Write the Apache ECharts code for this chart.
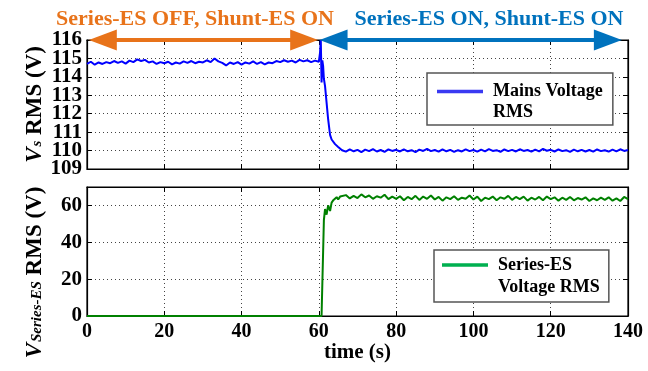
<!DOCTYPE html>
<html>
<head>
<meta charset="utf-8">
<script src="https://cdn.jsdelivr.net/npm/echarts@6/dist/echarts.min.js"></script>
<style>
  html, body { margin: 0; padding: 0; background: #fff; }
  #chart { width: 648px; height: 371px; }
</style>
</head>
<body>
<div id="chart"></div>
<script>
// sample times (s)
const timeS = [
  0, 1, 2, 3, 4, 5, 6, 7, 8, 9, 10, 11, 12, 13, 14, 15, 16, 17, 18, 19,
  20, 21, 22, 23, 24, 25, 26, 27, 28, 29, 30, 31, 32, 33, 34, 35, 36, 37, 38, 39,
  40, 41, 42, 43, 44, 45, 46, 47, 48, 49, 50, 51, 52, 53, 54, 55, 56, 57, 58, 59,
  60, 60.3, 60.5, 60.7, 60.9, 61.1, 61.3, 61.6, 62.0, 62.4, 62.9, 63.3, 63.8, 64.2, 64.6, 65.0, 65.5,
  66, 67, 68, 69, 70, 71, 72, 73, 74, 75, 76, 77, 78, 79, 80, 81, 82, 83, 84, 85,
  86, 87, 88, 89, 90, 91, 92, 93, 94, 95, 96, 97, 98, 99, 100, 101, 102, 103, 104, 105,
  106, 107, 108, 109, 110, 111, 112, 113, 114, 115, 116, 117, 118, 119, 120, 121, 122, 123, 124, 125,
  126, 127, 128, 129, 130, 131, 132, 133, 134, 135, 136, 137, 138, 139, 140
]

// Mains voltage RMS (V)
const mainsRms = [
  114.70, 114.82, 114.66, 114.78, 114.70, 114.80, 114.74, 114.86, 114.76, 114.84,
  114.72, 114.88, 114.80, 114.95, 114.86, 114.92, 114.78, 114.84, 114.70, 114.80,
  114.74, 114.82, 114.68, 114.78, 114.72, 114.84, 114.76, 114.86, 114.74, 114.82,
  114.78, 114.90, 114.80, 115.00, 114.84, 114.76, 114.62, 114.78, 114.70, 114.80,
  114.66, 114.78, 114.72, 114.84, 114.70, 114.80, 114.68, 114.78, 114.74, 114.86,
  114.80, 114.90, 114.82, 114.88, 114.78, 114.92, 114.84, 114.90, 114.80, 114.88,
  114.82, 115.30, 116.00, 113.70, 114.90, 114.60, 113.90, 113.50, 112.60, 111.70, 110.85, 110.60, 110.50, 110.35, 110.40, 110.20, 110.12,
  110.02, 109.94, 110.06, 109.96, 110.04, 109.92, 110.05, 109.97, 110.08, 109.95,
  110.03, 109.93, 110.06, 109.98, 110.04, 109.95, 110.07, 109.96, 110.02, 109.92,
  110.05, 109.98, 110.09, 109.97, 110.03, 109.94, 110.06, 109.96, 110.04, 109.93,
  110.02, 109.95, 110.07, 109.97, 110.03, 109.94, 110.05, 109.96, 110.08, 109.98,
  110.02, 109.93, 110.06, 109.97, 110.04, 109.95, 110.07, 109.98, 110.03, 109.94,
  110.05, 109.96, 110.09, 109.99, 110.04, 109.95, 110.06, 109.97, 110.02, 109.93,
  110.05, 109.96, 110.04, 109.95, 110.03, 109.94, 110.06, 109.97, 110.02, 109.94,
  110.05, 109.96, 110.07, 109.98, 110.03
]

// Series-ES voltage RMS (V)
const seriesEsRms = [
  0, 0, 0, 0, 0, 0, 0, 0, 0, 0, 0, 0, 0, 0, 0, 0, 0, 0, 0, 0,
  0, 0, 0, 0, 0, 0, 0, 0, 0, 0, 0, 0, 0, 0, 0, 0, 0, 0, 0, 0,
  0, 0, 0, 0, 0, 0, 0, 0, 0, 0, 0, 0, 0, 0, 0, 0, 0, 0, 0, 0,
  0, 0, 0, 0, 0, 0, 52, 58, 55, 60, 57, 61.5, 63, 62, 64.5, 63.2, 64.8,
  64.2, 65.6, 63.8, 65.2, 64.0, 66.0, 64.4, 65.4, 63.6, 65.0,
  64.2, 65.8, 63.4, 64.8, 63.6, 65.0, 62.8, 64.6, 63.4, 65.2,
  63.0, 64.8, 63.6, 65.4, 63.2, 64.6, 62.6, 64.4, 63.4, 65.0,
  63.0, 64.2, 63.6, 65.4, 63.2, 64.8, 62.4, 64.2, 63.4, 64.8,
  62.8, 64.4, 63.6, 65.2, 63.0, 64.6, 63.4, 64.8, 62.6, 64.2,
  63.2, 64.6, 62.8, 64.8, 63.4, 64.4, 62.6, 64.2, 63.0, 64.6,
  62.8, 64.0, 63.2, 64.4, 62.4, 63.8, 62.8, 64.2, 63.0, 64.4,
  62.6, 63.8, 62.4, 64.6, 63.4
]

const xTicks = { min: 0, max: 140, interval: 20 }
const vsRange = { min: 109, max: 116, interval: 1 }
const esRange = { min: 0, max: 70, interval: 20 }
// top panel tick labels, split in two sets so neighbours 18px apart are never culled
const vsLabelsOdd = [109, 111, 113, 115]
const vsLabelsEven = [110, 112, 114, 116]
const esLabels = [0, 20, 40, 60]

// mode annotations: [from, to] in seconds, drawn on the 116 V line
const offSpan = [4.1, 56.2]
const onSpan = [63.8, 134.8]
const offLabel = 'Series-ES OFF, Shunt-ES ON'
const onLabel = 'Series-ES ON, Shunt-ES ON'

const FONT = '"Liberation Serif", "Times New Roman", serif'
const ORANGE = '#E8731A'
const BLUE = '#0072BD'

const chart = echarts.init(document.getElementById('chart'), null, { renderer: 'canvas' })

const dotted = { show: true, lineStyle: { color: '#444', width: 1, type: [1, 3] } }
const tickIn = { show: true, inside: true, length: 5, lineStyle: { color: '#000', width: 1 } }
const blackLine = { show: true, onZero: false, lineStyle: { color: '#000', width: 1.2 } }
const tickFont = { fontFamily: FONT, fontWeight: 'bold', fontSize: 21, color: '#000' }

function xAx(grid, pos, labels) {
  return {
    type: 'value', gridIndex: grid, position: pos, ...xTicks,
    axisLine: blackLine, axisTick: tickIn,
    axisLabel: labels ? { ...tickFont, fontSize: 20, margin: 6, hideOverlap: false } : { show: false },
    splitLine: pos === 'bottom' ? dotted : { show: false },
  }
}

function yAx(grid, pos, range, labelValues) {
  return {
    type: 'value', gridIndex: grid, position: pos, ...range,
    axisLine: blackLine, axisTick: tickIn,
    axisLabel: labelValues
      ? { ...tickFont, margin: 5, hideOverlap: false, customValues: labelValues }
      : { show: false },
    splitLine: pos === 'left' ? dotted : { show: false },
  }
}

// label-only twin of a left axis (no line, ticks or grid)
function yLabelsOnly(grid, range, labelValues) {
  return {
    type: 'value', gridIndex: grid, position: 'left', offset: 0, ...range,
    axisLine: { show: false }, axisTick: { show: false }, splitLine: { show: false },
    axisLabel: { ...tickFont, margin: 5, hideOverlap: false, customValues: labelValues },
  }
}

function nameRich() {
  return {
    v: { fontFamily: FONT, fontWeight: 'bold', fontStyle: 'italic', fontSize: 23, verticalAlign: 'top', lineHeight: 26 },
    s: { fontFamily: FONT, fontWeight: 'bold', fontStyle: 'italic', fontSize: 15, verticalAlign: 'top', lineHeight: 24, padding: [6, 0, 0, 1] },
    r: { fontFamily: FONT, fontWeight: 'bold', fontSize: 23, verticalAlign: 'top', lineHeight: 26 },
  }
}

const yLeftTop = yAx(0, 'left', vsRange, vsLabelsOdd)
Object.assign(yLeftTop, {
  name: '{v|V}{s|s}{r| RMS (V)}', nameLocation: 'middle', nameGap: 37, nameRotate: 90, nameMoveOverlap: false,
  nameTextStyle: { color: '#000', rich: nameRich() },
})
const yLeftBot = yAx(1, 'left', esRange, esLabels)
Object.assign(yLeftBot, {
  name: '{v|V}{s|Series-ES}{r| RMS (V)}', nameLocation: 'middle', nameGap: 37, nameRotate: 90, nameMoveOverlap: false,
  nameTextStyle: { color: '#000', padding: [0, 42, 0, 0], rich: nameRich() },
})
const xBot = xAx(1, 'bottom', true)
Object.assign(xBot, {
  name: 'time (s)', nameLocation: 'middle', nameGap: 26, nameMoveOverlap: false,
  nameTextStyle: { fontFamily: FONT, fontWeight: 'bold', fontSize: 21, color: '#000' },
})

function legendBox(name, top, left, padding, lineHeight, color, iconPath) {
  return {
    show: true, orient: 'vertical', left, top, padding, selectedMode: false,
    backgroundColor: '#fff', borderColor: '#555', borderWidth: 1.5, borderRadius: 0,
    itemWidth: 46, itemHeight: lineHeight * 2, icon: iconPath,
    data: [{ name, itemStyle: { color, borderWidth: 0 } }],
    formatter: n => n === 'Mains Voltage RMS' ? 'Mains Voltage\nRMS' : 'Series-ES\nVoltage RMS',
    textStyle: { fontFamily: FONT, fontWeight: 'bold', fontSize: 18, color: '#000', lineHeight, padding: [0, 0, 0, 5] },
  }
}

const option = {
  animation: false,
  backgroundColor: '#fff',
  title: [
    { text: offLabel, left: 190, top: 3, textAlign: 'center',
      textStyle: { fontFamily: FONT, fontWeight: 'bold', fontSize: 22, color: ORANGE } },
    { text: onLabel, left: 484, top: 3, textAlign: 'center',
      textStyle: { fontFamily: FONT, fontWeight: 'bold', fontSize: 22, color: BLUE } },
  ],
  legend: [
    legendBox('Mains Voltage RMS', 73, 427, [8, 10, 2, 10], 21, '#3a3af2',
      'path://M0,0L0.01,0L0.01,0.01ZM0,8.7L46,8.7L46,12.3L0,12.3ZM0,42L0.01,42L0.01,41.99Z'),
    legendBox('Series-ES Voltage RMS', 250, 434, [4, 9, 4, 8], 22, '#00b050',
      'path://M0,0L0.01,0L0.01,0.01ZM0,9.2L46,9.2L46,12.8L0,12.8ZM0,44L0.01,44L0.01,43.99Z'),
  ],
  grid: [
    { left: 87, right: 20, top: 40, height: 129, show: true, borderColor: '#000', borderWidth: 1.2, backgroundColor: 'transparent' },
    { left: 87, right: 20, top: 187, height: 129, show: true, borderColor: '#000', borderWidth: 1.2, backgroundColor: 'transparent' },
  ],
  xAxis: [xAx(0, 'bottom', false), xAx(0, 'top', false), xBot, xAx(1, 'top', false)],
  yAxis: [
    yLeftTop, yAx(0, 'right', vsRange, null), yLeftBot, yAx(1, 'right', esRange, null),
    yLabelsOnly(0, vsRange, vsLabelsEven),
  ],
  series: [
    {
      name: 'Mains Voltage RMS', type: 'line', xAxisIndex: 0, yAxisIndex: 0,
      data: timeS.map((t, i) => [t, mainsRms[i]]),
      symbol: 'none', showSymbol: false, clip: true, silent: true,
      lineStyle: { color: '#0000ff', width: 2 }, itemStyle: { color: '#0000ff' },
    },
    {
      name: 'Series-ES Voltage RMS', type: 'line', xAxisIndex: 2, yAxisIndex: 2,
      data: timeS.map((t, i) => [t, seriesEsRms[i]]),
      symbol: 'none', showSymbol: false, clip: true, silent: true,
      lineStyle: { color: '#008000', width: 2 }, itemStyle: { color: '#008000' },
    },
    {
      name: 'mode arrows', type: 'line', xAxisIndex: 0, yAxisIndex: 0, data: [], clip: false, silent: true,
      markLine: {
        silent: true, symbol: ['triangle', 'triangle'], symbolSize: [21, 28],
        label: { show: false }, emphasis: { disabled: true },
        data: [
          [{ coord: [offSpan[0], vsRange.max], lineStyle: { color: ORANGE, width: 4, type: 'solid' } }, { coord: [offSpan[1], vsRange.max] }],
          [{ coord: [onSpan[0], vsRange.max], lineStyle: { color: BLUE, width: 4, type: 'solid' } }, { coord: [onSpan[1], vsRange.max] }],
        ],
      },
    },
  ],
}

chart.setOption(option)
</script>
</body>
</html>
